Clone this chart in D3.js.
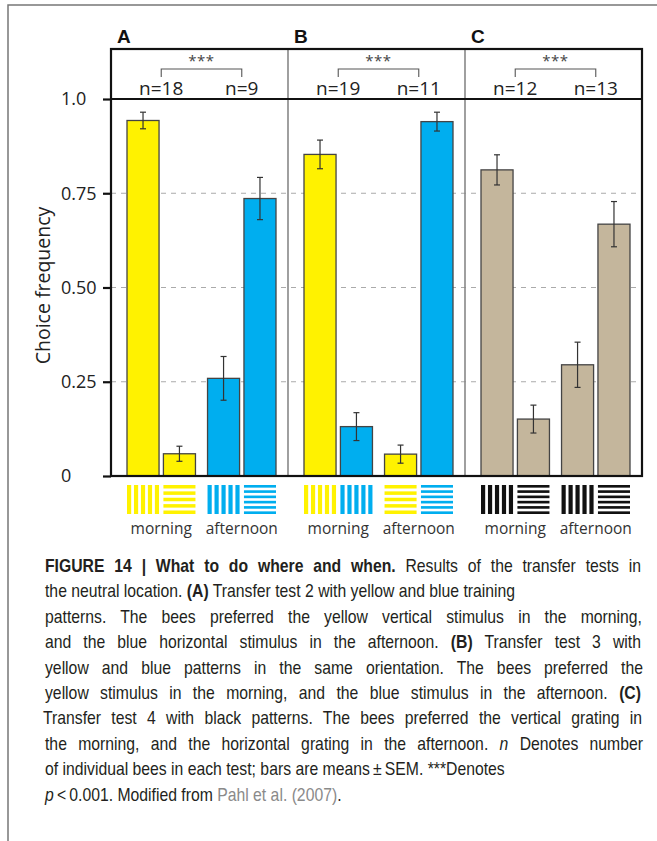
<!DOCTYPE html>
<html>
<head>
<meta charset="utf-8">
<script src="https://cdn.jsdelivr.net/npm/d3@7"></script>
<style>
  html, body { margin: 0; padding: 0; background: #fff; }
  svg { display: block; }
</style>
</head>
<body>
<div id="chart"></div>
<script>
// ---------------- data ----------------
const panels = ["A", "B", "C"];
const conditions = ["morning", "afternoon"];
const nCounts = [[18, 9], [19, 11], [12, 13]];
const yTicks = [0, 0.25, 0.5, 0.75, 1.0];
const yTickLabels = ["0", "0.25", "0.50", "0.75", "1.0"];
const yTitle = "Choice frequency";
const sigLabel = "***";

// four bars per panel: morning pair, afternoon pair
const meansA = [0.943, 0.059, 0.259, 0.736];
const semA   = [0.022, 0.020, 0.058, 0.056];
const meansB = [0.853, 0.131, 0.058, 0.940];
const semB   = [0.038, 0.037, 0.024, 0.025];
const meansC = [0.812, 0.151, 0.295, 0.668];
const semC   = [0.040, 0.037, 0.060, 0.060];

const barColorA = ["yellow", "yellow", "blue", "blue"];
const barColorB = ["yellow", "blue", "yellow", "blue"];
const barColorC = ["tan", "tan", "tan", "tan"];
const stimColorA = ["yellow", "yellow", "blue", "blue"];
const stimColorB = ["yellow", "blue", "yellow", "blue"];
const stimColorC = ["black", "black", "black", "black"];
const stimOrientA = ["v", "h", "v", "h"];
const stimOrientB = ["v", "v", "h", "h"];
const stimOrientC = ["v", "h", "v", "h"];

const palette = { yellow: "#FFF200", blue: "#00AEEF", tan: "#C4B69C", black: "#111111" };

const captionLines = [
  [["b", "FIGURE 14 | What to do where and when."], ["r", " Results of the transfer tests in"]],
  [["r", "the neutral location. "], ["b", "(A)"], ["r", " Transfer test 2 with yellow and blue training"]],
  [["r", "patterns. The bees preferred the yellow vertical stimulus in the morning,"]],
  [["r", "and the blue horizontal stimulus in the afternoon. "], ["b", "(B)"], ["r", " Transfer test 3 with"]],
  [["r", "yellow and blue patterns in the same orientation. The bees preferred the"]],
  [["r", "yellow stimulus in the morning, and the blue stimulus in the afternoon. "], ["b", "(C)"]],
  [["r", "Transfer test 4 with black patterns. The bees preferred the vertical grating in"]],
  [["r", "the morning, and the horizontal grating in the afternoon. "], ["i", "n"], ["r", " Denotes number"]],
  [["r", "of individual bees in each test; bars are means\u2009\u00b1\u2009SEM. ***Denotes"]],
  [["i", "p"], ["r", "\u2009<\u20090.001. Modified from "], ["g", "Pahl et al. (2007)"], ["r", "."]]
];
// justified caption lines: printed width; null = ragged (natural width)
const captionWidths = [596, null, 597, 596, 598, 596, 599, 598, null, null];

// ---------------- layout ----------------
const W = 657, H = 841;
const frameL = 111, frameR = 642, frameT = 49, plotT = 99, plotB = 476;
const chartFont = "'Open Sans', 'Noto Sans', sans-serif";

const svg = d3.select("#chart").append("svg").attr("width", W).attr("height", H);

// outer figure border (top & left)
svg.append("path").attr("d", `M8,${H} L8,5 L${W},5`)
  .attr("fill", "none").attr("stroke", "#777").attr("stroke-width", 1.5);

const y = d3.scaleLinear().domain([0, 1]).range([plotB, plotT]);
const xPanel = d3.scaleBand().domain(panels).range([frameL, frameR]);

const panelData = [
  { means: meansA, sem: semA, bar: barColorA, stim: stimColorA, orient: stimOrientA },
  { means: meansB, sem: semB, bar: barColorB, stim: stimColorB, orient: stimOrientB },
  { means: meansC, sem: semC, bar: barColorC, stim: stimColorC, orient: stimOrientC }
];

// gridlines
svg.append("g").selectAll("line").data(yTicks.filter(t => t > 0 && t < 1)).join("line")
  .attr("x1", frameL).attr("x2", frameR)
  .attr("y1", d => y(d)).attr("y2", d => y(d))
  .attr("stroke", "#aaa").attr("stroke-width", 1.2).attr("stroke-dasharray", "5,5");

const barsLayer = svg.append("g");
const overLayer = svg.append("g");

panels.forEach((p, pi) => {
  const x0 = xPanel(p), pw = xPanel.bandwidth();
  const d = panelData[pi];
  const xGroup = d3.scaleBand().domain(conditions).range([x0 + 16, x0 + pw - 12]).paddingInner(0.15);
  const xBar = d3.scaleBand().domain([0, 1]).range([0, xGroup.bandwidth()]).paddingInner(0.12);
  const bars = d.means.map((m, i) => ({
    m, s: d.sem[i], color: palette[d.bar[i]], stimColor: palette[d.stim[i]], orient: d.orient[i],
    x: xGroup(conditions[Math.floor(i / 2)]) + xBar(i % 2), w: xBar.bandwidth()
  }));

  // bars
  barsLayer.append("g").selectAll("rect").data(bars).join("rect")
    .attr("x", b => b.x).attr("width", b => b.w)
    .attr("y", b => y(b.m)).attr("height", b => y(0) - y(b.m))
    .attr("fill", b => b.color).attr("stroke", "#444").attr("stroke-width", 1.3);

  // error bars
  const eb = barsLayer.append("g").attr("stroke", "#333").attr("stroke-width", 1.2);
  bars.forEach(b => {
    const cx = b.x + b.w / 2;
    eb.append("line").attr("x1", cx).attr("x2", cx).attr("y1", y(b.m + b.s)).attr("y2", y(b.m - b.s));
    eb.append("line").attr("x1", cx - 3).attr("x2", cx + 3).attr("y1", y(b.m + b.s)).attr("y2", y(b.m + b.s));
    eb.append("line").attr("x1", cx - 3).attr("x2", cx + 3).attr("y1", y(b.m - b.s)).attr("y2", y(b.m - b.s));
  });

  // stimulus icons
  const iconTop = 485, iconH = 29;
  bars.forEach(b => {
    const g = svg.append("g");
    if (b.orient === "v") {
      const s = d3.scaleBand().domain(d3.range(5)).range([b.x, b.x + b.w]).paddingInner(0.4);
      g.selectAll("rect").data(d3.range(5)).join("rect")
        .attr("x", k => s(k)).attr("width", s.bandwidth())
        .attr("y", iconTop).attr("height", iconH).attr("fill", b.stimColor);
    } else {
      const n = b.stimColor === palette.yellow ? 5 : 6;
      const s = d3.scaleBand().domain(d3.range(n)).range([iconTop, iconTop + iconH]).paddingInner(n === 5 ? 0.45 : 0.5);
      g.selectAll("rect").data(d3.range(n)).join("rect")
        .attr("y", k => s(k)).attr("height", s.bandwidth())
        .attr("x", b.x).attr("width", b.w).attr("fill", b.stimColor);
    }
  });

  // condition labels
  overLayer.append("g").selectAll("text").data(conditions).join("text")
    .attr("x", c => xGroup(c) + xGroup.bandwidth() / 2).attr("y", 534)
    .attr("text-anchor", "middle").attr("font-family", chartFont).attr("font-size", 15.5)
    .attr("fill", "#333").text(c => c);

  // header: n labels, bracket, stars
  const c1 = xGroup(conditions[0]) + xGroup.bandwidth() / 2;
  const c2 = xGroup(conditions[1]) + xGroup.bandwidth() / 2;
  overLayer.append("g").selectAll("text").data(conditions).join("text")
    .attr("x", c => xGroup(c) + xGroup.bandwidth() / 2).attr("y", 95)
    .attr("text-anchor", "middle").attr("font-family", chartFont).attr("font-size", 19)
    .attr("fill", "#222").text((c, i) => "n=" + nCounts[pi][i]);
  overLayer.append("path").attr("d", `M${c1},77 L${c1},69 L${c2},69 L${c2},77`)
    .attr("fill", "none").attr("stroke", "#555").attr("stroke-width", 1.1);
  overLayer.append("text").attr("x", (c1 + c2) / 2).attr("y", 66).attr("text-anchor", "middle")
    .attr("font-family", chartFont).attr("font-size", 15).attr("fill", "#444")
    .attr("letter-spacing", 0.5).text(sigLabel);

  // panel letter
  overLayer.append("text").attr("x", x0 + 6).attr("y", 43)
    .attr("font-family", "'Liberation Sans', Arial, sans-serif").attr("font-weight", "bold")
    .attr("font-size", 19).attr("fill", "#111").text(p);
});

// panel dividers
svg.append("g").selectAll("line").data(panels.slice(1)).join("line")
  .attr("x1", p => xPanel(p)).attr("x2", p => xPanel(p))
  .attr("y1", frameT).attr("y2", plotB)
  .attr("stroke", "#888").attr("stroke-width", 1.6);

// frame
svg.append("rect").attr("x", frameL).attr("y", frameT)
  .attr("width", frameR - frameL).attr("height", plotB - frameT)
  .attr("fill", "none").attr("stroke", "#111").attr("stroke-width", 2.2);
svg.append("line").attr("x1", frameL).attr("x2", frameR).attr("y1", plotT).attr("y2", plotT)
  .attr("stroke", "#111").attr("stroke-width", 2.2);

// y axis
const yAxis = d3.axisLeft(y).tickValues(yTicks).tickSize(8).tickPadding(0)
  .tickFormat((t, i) => yTickLabels[i]);
const ya = svg.append("g").attr("transform", `translate(${frameL},0)`).call(yAxis);
ya.select(".domain").remove();
ya.selectAll(".tick line").attr("stroke", "#111").attr("stroke-width", 2.2);
ya.selectAll(".tick text").attr("x", 61 - frameL).attr("text-anchor", "start")
  .attr("font-family", chartFont).attr("font-size", 18).attr("fill", "#222");

// y title
svg.append("text").attr("transform", `translate(50,${(plotT + plotB) / 2 - 2}) rotate(-90)`)
  .attr("text-anchor", "middle").attr("font-family", chartFont).attr("font-size", 19.5)
  .attr("fill", "#222").text(yTitle);

// caption: condensed face (horizontal squeeze), justified lines widened with word spacing
const condense = 0.83;
const cap = svg.append("g").attr("transform", `scale(${condense},1)`)
  .attr("font-family", "'Liberation Sans', Arial, sans-serif")
  .attr("font-size", 19).attr("fill", "#231f20");
captionLines.forEach((line, li) => {
  const t = cap.append("text").attr("x", (li === 6 ? 43 : 45) / condense).attr("y", 572 + li * 25.4);
  line.forEach(([style, str]) => {
    const ts = t.append("tspan").text(str);
    if (style === "b") ts.attr("font-weight", "bold");
    if (style === "i") ts.attr("font-style", "italic");
    if (style === "g") ts.attr("fill", "#8a8a8a");
  });
  if (captionWidths[li] !== null) {
    const natural = t.node().getComputedTextLength();
    const spaces = line.map(s => s[1]).join("").split(" ").length - 1;
    const extra = (captionWidths[li] / condense - natural) / spaces;
    if (extra > 0) t.attr("word-spacing", extra);
  }
});
</script>
</body>
</html>
